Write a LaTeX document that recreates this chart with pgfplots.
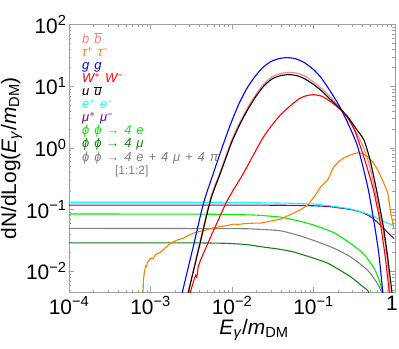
\documentclass[border=0pt]{standalone}
\usepackage{fontspec}
\setmainfont{Liberation Sans}
\usepackage{pgfplots}
\pgfplotsset{compat=1.18}
\definecolor{cbb}{RGB}{250,128,128}
\definecolor{ctau}{RGB}{255,128,0}
\definecolor{cgg}{RGB}{0,0,255}
\definecolor{cww}{RGB}{255,0,0}
\definecolor{cuu}{RGB}{0,0,0}
\definecolor{cee}{RGB}{0,255,255}
\definecolor{cmm}{RGB}{128,0,128}
\definecolor{cfe}{RGB}{0,240,0}
\definecolor{cfm}{RGB}{20,130,20}
\definecolor{cfx}{RGB}{128,128,128}
\definecolor{frame}{RGB}{160,160,160}
\newcommand{\ol}[1]{\ensuremath{\overline{\mbox{#1}}}}
\newcommand{\sups}[1]{\textsuperscript{#1}}
\newcommand{\legfont}{\fontsize{13}{14}\selectfont\itshape\spaceskip=0.38em\relax}

\begin{document}
\begin{tikzpicture}
\begin{axis}[
  at={(69bp,57bp)},anchor=south west,
  scale only axis,width=326bp,height=267.5bp,
  xmode=log,ymode=log,
  xmin=1e-4,xmax=1,ymin=0.0046,ymax=100,
  axis line style={frame},
  every tick/.style={frame,thin},
  major tick length=5bp,minor tick length=2.5bp,
  xtick={1e-4,1e-3,1e-2,1e-1,1},
  xticklabels={10\sups{−4},10\sups{−3},10\sups{−2},10\sups{−1},1\hspace*{6bp}},
  minor xtick={2e-4,3e-4,4e-4,5e-4,6e-4,7e-4,8e-4,9e-4,2e-3,3e-3,4e-3,5e-3,6e-3,7e-3,8e-3,9e-3,0.02,0.03,0.04,0.05,0.06,0.07,0.08,0.09,0.2,0.3,0.4,0.5,0.6,0.7,0.8,0.9},
  ytick={0.01,0.1,1,10,100},
  yticklabels={10\sups{−2},10\sups{−1},10\sups{0},10\sups{1},10\sups{2}},
  minor ytick={0.005,0.006,0.007,0.008,0.009,0.02,0.03,0.04,0.05,0.06,0.07,0.08,0.09,0.2,0.3,0.4,0.5,0.6,0.7,0.8,0.9,2,3,4,5,6,7,8,9,20,30,40,50,60,70,80,90},
  tick label style={font=\fontsize{21}{24}\selectfont},
  label style={font=\fontsize{21}{24}\selectfont},
  xticklabel style={yshift=-1bp},
  yticklabel style={xshift=1bp},
  xlabel={\textit{E}\textsubscript{\textit{γ}}/\textit{m}\textsubscript{DM}},
  ylabel={dN/dLog(\textit{E}\textsubscript{\textit{γ}}/\textit{m}\textsubscript{DM})},
  xlabel style={xshift=22bp,yshift=2bp},
  ylabel style={yshift=-3bp},
  every axis plot/.append style={line width=1.1pt,smooth,tension=0.4},
]
\addplot[cfm] coordinates {(1e-4,0.0288) (0.003,0.0288) (0.0085,0.0283) (0.015,0.0270) (0.0225,0.0250) (0.04,0.0225) (0.057,0.0205) (0.10,0.0163) (0.15,0.0135) (0.179,0.0118) (0.286,0.0081) (0.38,0.0060) (0.46,0.0049) (0.50,0.0040)};
\addplot[cfx] coordinates {(1e-4,0.0494) (0.01,0.049) (0.02,0.048) (0.04,0.045) (0.07,0.037) (0.12,0.029) (0.179,0.0235) (0.286,0.0170) (0.46,0.0104) (0.61,0.0063) (0.67,0.0049) (0.72,0.0040)};
\addplot[cfe] coordinates {(1e-4,0.0845) (0.003,0.0843) (0.01,0.083) (0.02,0.081) (0.04,0.075) (0.07,0.064) (0.10,0.056) (0.179,0.042) (0.286,0.028) (0.38,0.021) (0.46,0.016) (0.57,0.0104) (0.66,0.0063) (0.71,0.0040)};
\addplot[cmm] coordinates {(1e-4,0.118) (0.01,0.118) (0.05,0.117) (0.1,0.115) (0.15,0.112) (0.2,0.107) (0.286,0.100) (0.38,0.091) (0.46,0.082) (0.55,0.070) (0.65,0.057) (0.75,0.047) (0.85,0.040) (0.975,0.034)};
\addplot[cee] coordinates {(1e-4,0.131) (0.003,0.131) (0.01,0.130) (0.03,0.128) (0.06,0.126) (0.10,0.123) (0.15,0.116) (0.2,0.110) (0.286,0.102) (0.38,0.092) (0.46,0.085) (0.61,0.072) (0.73,0.064) (0.85,0.059) (0.975,0.054)};
\addplot[cbb] coordinates {(0.00283,0.0040) (0.00394,0.026) (0.00546,0.154) (0.00723,0.423) (0.00989,1.32) (0.01245,2.57) (0.01567,4.55) (0.0197,7.39) (0.0248,11.0) (0.0313,14.3) (0.0394,16.0) (0.0495,16.8) (0.0624,16.2) (0.0785,14.6) (0.1005,11.6) (0.1274,9.0) (0.1626,6.6) (0.2065,4.6) (0.263,3.1) (0.327,1.9) (0.414,1.0) (0.489,0.50) (0.557,0.232) (0.687,0.0596) (0.787,0.020) (0.87,0.0046) (0.89,0.0035)};
\addplot[ctau,sharp plot] coordinates {(0.000810,0.0040) (0.000818,0.0071) (0.000840,0.0095) (0.000869,0.0121) (0.000890,0.0118) (0.000919,0.0140) (0.000960,0.0150) (0.00100,0.0163) (0.00108,0.0160) (0.00115,0.0185) (0.00133,0.0204) (0.00150,0.0235) (0.00176,0.0285) (0.0021,0.0318) (0.00254,0.0344) (0.0029,0.0380) (0.00337,0.0415) (0.0040,0.0440) (0.00474,0.0464) (0.0056,0.0495) (0.00665,0.0519) (0.0085,0.0548) (0.0105,0.058) (0.0120,0.0572) (0.0140,0.0590) (0.0180,0.0600) (0.0225,0.0603) (0.0300,0.0650) (0.0395,0.070) (0.0571,0.0877) (0.0700,0.100) (0.0849,0.118) (0.100,0.155) (0.1226,0.232) (0.149,0.302) (0.177,0.491) (0.205,0.60) (0.235,0.687) (0.286,0.769) (0.320,0.810) (0.359,0.830) (0.410,0.790) (0.463,0.714) (0.540,0.580) (0.614,0.438) (0.700,0.30) (0.760,0.235) (0.815,0.185) (0.855,0.125) (0.887,0.0877) (0.930,0.065) (0.966,0.050)};
\addplot[cgg] coordinates {(0.00240,0.0040) (0.00341,0.0277) (0.00448,0.128) (0.00607,0.43) (0.00764,1.05) (0.00962,2.43) (0.0121,5.09) (0.0152,9.18) (0.0192,14.4) (0.0242,20.4) (0.0304,25.3) (0.0383,28.1) (0.0482,29.0) (0.0607,27.8) (0.0764,24.3) (0.1005,18.5) (0.1268,13.2) (0.1626,8.1) (0.2056,4.89) (0.263,2.55) (0.349,1.04) (0.463,0.232) (0.548,0.0675) (0.632,0.0196) (0.708,0.0046) (0.725,0.0035)};
\addplot[cww] coordinates {(0.00300,0.0040) (0.00330,0.0062) (0.00358,0.0086) (0.00370,0.0080) (0.00385,0.0118) (0.00400,0.0135) (0.00411,0.0151) (0.00546,0.0357) (0.00883,0.1426) (0.0139,0.392) (0.0244,1.51) (0.0395,3.44) (0.0640,6.03) (0.080,6.95) (0.1005,7.27) (0.127,6.84) (0.1626,5.6) (0.2065,4.37) (0.263,3.08) (0.327,1.78) (0.414,0.714) (0.533,0.232) (0.650,0.0675) (0.749,0.0196) (0.85,0.0046) (0.87,0.0035)};
\addplot[cuu] coordinates {(0.00285,0.0040) (0.00394,0.024) (0.00546,0.1426) (0.00723,0.392) (0.00989,1.22) (0.01245,2.38) (0.01567,4.21) (0.0197,6.84) (0.0248,10.2) (0.0313,13.2) (0.0394,14.8) (0.0495,15.4) (0.0624,14.8) (0.0785,13.1) (0.1005,10.6) (0.1274,8.26) (0.1626,6.03) (0.2065,4.44) (0.263,3.19) (0.327,2.12) (0.414,1.35) (0.489,0.673) (0.581,0.239) (0.722,0.0516) (0.822,0.0151) (0.931,0.0039)};
\begin{scope}[every node/.style={anchor=west,inner sep=0pt,text height=8.5bp,text depth=2.5bp,font=\legfont}]
\node[cbb] at (axis description cs:0.04,0.940) {b \ol{b}};
\node[ctau] at (axis description cs:0.04,0.891) {τ\sups{+} τ\sups{−}};
\node[cgg] at (axis description cs:0.04,0.843) {g g};
\node[cww] at (axis description cs:0.04,0.794) {W\sups{+} W\sups{−}};
\node[cuu] at (axis description cs:0.04,0.745) {u \ol{u}};
\node[cee] at (axis description cs:0.04,0.697) {e\sups{+} e\sups{−}};
\node[cmm] at (axis description cs:0.04,0.648) {μ\sups{+} μ\sups{−}};
\node[cfe] at (axis description cs:0.04,0.600) {ϕ ϕ → 4 e};
\node[cfm] at (axis description cs:0.04,0.551) {ϕ ϕ → 4 μ};
\node[cfx] at (axis description cs:0.04,0.499) {ϕ ϕ → 4 e + 4 μ + 4 π};
\node[cfx,font=\fontsize{12}{14}\selectfont] at (axis description cs:0.141,0.450) {[1:1:2]};
\end{scope}
\end{axis}
\pgfresetboundingbox
\path[use as bounding box] (0,0) rectangle (399bp,349bp);
\end{tikzpicture}
\end{document}
